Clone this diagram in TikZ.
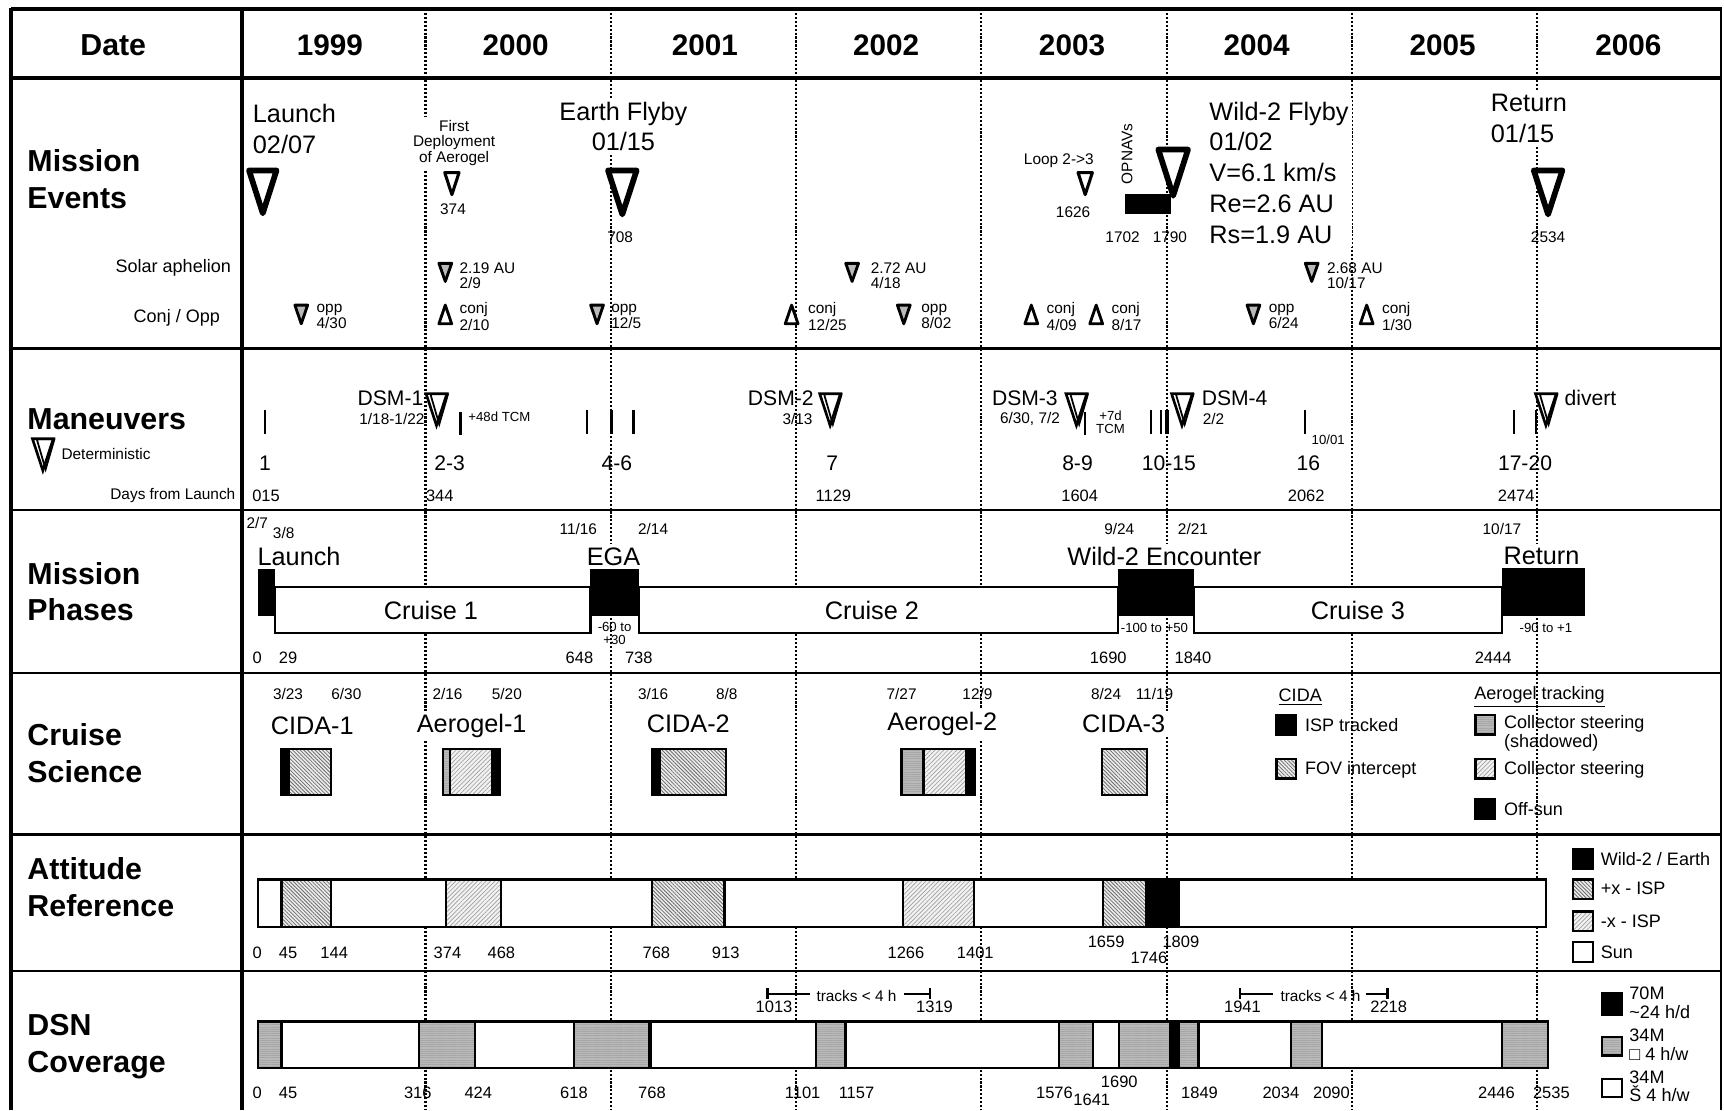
\documentclass[tikz,border=0pt]{standalone}
\usepackage{fontspec}
\setmainfont{Liberation Sans}
\usetikzlibrary{patterns.meta}
\newcount\nodecnt
\newcommand\TT[3][]{\global\advance\nodecnt by 1\relax\node[name=t\the\nodecnt,#1] at (#2) {#3};}
\newcommand\dtri[5]{\draw[#5] ({#1-#4},#2) -- ({#1+#4},#2) -- ({#1},#3) -- cycle;}
\newcommand\mtri[2]{\dtri{#1}{#2}{#2+29}{9.5}{mt}\dtri{#1+2.5}{#2+0.5}{#2+28}{8}{mt2}}
\tikzset{
 every node/.style={inner sep=0pt, outer sep=0pt},
 hd/.style={font=\bfseries\fontsize{13.8}{16.5}\selectfont},
 yrs/.style={font=\bfseries\fontsize{13.5}{16}\selectfont},
 ev/.style={font=\fontsize{11.5}{14}\selectfont},
 mn/.style={font=\fontsize{9.6}{11}\selectfont},
 lg/.style={font=\fontsize{8.2}{8.5}\selectfont},
 sl/.style={font=\fontsize{7.5}{8}\selectfont},
 sx/.style={font=\fontsize{7}{7}\selectfont},
 cj/.style={font=\fontsize{7}{6.3}\selectfont},
 tn/.style={font=\fontsize{6}{6}\selectfont},
 msk/.style={fill=white, inner sep=1.5pt},
 yr/.style={line width=0.95pt, dash pattern=on 0.95pt off 0.85pt},
 big/.style={line width=2.6pt, line join=round, fill=white},
 sml/.style={line width=1.4pt, line join=round, fill=white},
 gtri/.style={line width=1.3pt, line join=round, fill=gray!55},
 wtri/.style={line width=1.3pt, line join=round, fill=white},
 mt/.style={line width=1.2pt, fill=white},
 mt2/.style={line width=0.8pt},
 tick/.style={line width=1.1pt},
 bx/.style={line width=1pt},
 blk/.style={fill=black},
 hatA/.style={preaction={fill=gray!15}, preaction={pattern={Lines[angle=-45,distance=1.2pt,line width=0.35pt]}, pattern color=gray!85!black}},
 hatB/.style={preaction={fill=gray!10}, preaction={pattern={Lines[angle=45,distance=1.4pt,line width=0.3pt]}, pattern color=gray!75}},
 gry/.style={preaction={fill=gray!55}, preaction={pattern={Lines[angle=0,distance=1pt,line width=0.25pt]}, pattern color=gray!70}},
}
\begin{document}
\begin{tikzpicture}[x=0.5pt, y=-0.5pt]
\useasboundingbox (0,0) rectangle (1568,1010);
\fill[white] (0,0) rectangle (1568,1010);
% year lines
\foreach \xx in {387,556,724,892,1061,1230,1398} {\draw[yr] (\xx,8) -- (\xx,1010);}
% frame
\draw[line width=1.6pt] (10,8) -- (1566,8);
\draw[line width=1.6pt] (10,7) -- (10,1010);
\draw[line width=2pt] (220,8) -- (220,1010);
\draw[line width=0.8pt] (1565,8) -- (1565,1010);
\draw[line width=2pt] (10,71) -- (1566,71);
\foreach \yy in {317,464,612,759,883} {\draw[line width=1.2pt] (10,\yy) -- (1566,\yy);}
% header row
\TT[hd]{103,41}{Date}
\TT[yrs]{300,41}{1999}
\TT[yrs]{469,41}{2000}
\TT[yrs]{641,41}{2001}
\TT[yrs]{806,41}{2002}
\TT[yrs]{975,41}{2003}
\TT[yrs]{1143,41}{2004}
\TT[yrs]{1312,41}{2005}
\TT[yrs]{1481,41}{2006}
% row labels
\TT[hd,anchor=west,align=left]{25,163}{Mission\\Events}
\TT[hd,anchor=west]{25,381}{Maneuvers}
\TT[hd,anchor=west,align=left]{25,538}{Mission\\Phases}
\TT[hd,anchor=west,align=left]{25,685}{Cruise\\Science}
\TT[hd,anchor=west,align=left]{25,807}{Attitude\\Reference}
\TT[hd,anchor=west,align=left]{25,952}{DSN\\Coverage}
\TT[lg,anchor=east]{210,244}{Solar aphelion}
\TT[lg,anchor=east]{200,289}{Conj / Opp}
\TT[sx,anchor=east]{214,451}{Days from Launch}
\TT[sx,anchor=west]{56,413}{Deterministic}
\mtri{39}{399}
% ---------- Mission events
\TT[ev,anchor=west,align=left]{230,117}{Launch\\02/07}
\dtri{239}{155}{194}{12.5}{big}
\TT[sx,align=center,msk]{413,130}{First\\Deployment\\of Aerogel}
\dtri{411}{157}{177}{6.5}{sml}
\TT[sx]{412,190}{374}
\TT[ev,align=center,msk]{567,115}{Earth Flyby\\01/15}
\dtri{566}{155}{195}{13}{big}
\TT[sx]{564,216}{708}
\TT[sx]{963,146}{Loop 2->3}
\dtri{987}{157}{177}{6.5}{sml}
\TT[sx]{976,193}{1626}
\TT[sx,rotate=90]{1025,140}{OPNAVs}
\fill (1023,176) rectangle (1065,195);
\TT[sx]{1021,216}{1702}
\TT[sx]{1064,216}{1790}
\dtri{1067}{136}{178}{13.5}{big}
\TT[ev,anchor=west,align=left,msk]{1097,157}{Wild-2 Flyby\\01/02\\V=6.1 km/s\\Re=2.6 AU\\Rs=1.9 AU}
\TT[ev,anchor=west,align=left,msk]{1353,108}{Return\\01/15}
\dtri{1408}{155}{195}{13}{big}
\TT[sx]{1408,216}{2534}
% aphelion
\dtri{405}{239.5}{256}{5.8}{gtri}
\TT[sx,anchor=west,align=left]{418,251}{2.19 AU\\2/9}
\dtri{775}{239.5}{256}{5.8}{gtri}
\TT[sx,anchor=west,align=left]{792,251}{2.72 AU\\4/18}
\dtri{1193}{239.5}{256}{5.8}{gtri}
\TT[sx,anchor=west,align=left]{1207,251}{2.68 AU\\10/17}
% conj / opp
\dtri{274}{277.5}{294.5}{5.8}{gtri}
\TT[cj,anchor=west,align=left]{288,288}{opp\\4/30}
\dtri{405}{294.5}{277.5}{5.8}{wtri}
\TT[cj,anchor=west,align=left]{418,288}{conj\\2/10}
\dtri{543}{277.5}{294.5}{5.8}{gtri}
\TT[cj,anchor=west,align=left]{556,288}{opp\\12/5}
\dtri{720}{294.5}{277.5}{5.8}{wtri}
\TT[cj,anchor=west,align=left]{735,288}{conj\\12/25}
\dtri{822}{277.5}{294.5}{5.8}{gtri}
\TT[cj,anchor=west,align=left]{838,288}{opp\\8/02}
\dtri{938}{294.5}{277.5}{5.8}{wtri}
\TT[cj,anchor=west,align=left]{952,288}{conj\\4/09}
\dtri{997}{294.5}{277.5}{5.8}{wtri}
\TT[cj,anchor=west,align=left]{1011,288}{conj\\8/17}
\dtri{1140}{277.5}{294.5}{5.8}{gtri}
\TT[cj,anchor=west,align=left]{1154,288}{opp\\6/24}
\dtri{1243}{294.5}{277.5}{5.8}{wtri}
\TT[cj,anchor=west,align=left]{1257,288}{conj\\1/30}
% ---------- Maneuvers
\foreach \xx in {241,534,556,576,1047,1056,1187,1377,1397} {\draw[tick] (\xx,373) -- (\xx,395);}
\draw[tick] (419,375) -- (419,396);
\draw[tick] (987,375) -- (987,396);
\draw[line width=1.8pt] (1061,373) -- (1061,395);
\mtri{397}{358}
\mtri{755}{358}
\mtri{979}{358}
\mtri{1075}{358}
\mtri{1406}{358}
\TT[mn,anchor=east]{385,362}{DSM-1}
\TT[sx,anchor=east]{386,381}{1/18-1/22}
\TT[tn,anchor=west]{426,379}{+48d TCM}
\TT[mn,anchor=east]{740,362}{DSM-2}
\TT[sx,anchor=east]{739,381}{3/13}
\TT[mn,anchor=east]{962,362}{DSM-3}
\TT[sx,anchor=east]{964,381}{6/30, 7/2}
\TT[tn,align=center]{1010,384}{+7d\\TCM}
\TT[mn,anchor=west]{1093,362}{DSM-4}
\TT[sx,anchor=west]{1094,381}{2/2}
\TT[tn]{1208,400}{10/01}
\TT[mn,anchor=west]{1423,362}{divert}
\TT[mn]{241,421}{1}
\TT[mn]{409,421}{2-3}
\TT[mn]{561,421}{4-6}
\TT[mn]{757,421}{7}
\TT[mn]{980,421}{8-9}
\TT[mn]{1063,421}{10-15}
\TT[mn]{1190,421}{16}
\TT[mn]{1387,421}{17-20}
\TT[sl]{242,451}{015}
\TT[sl]{400,451}{344}
\TT[sl]{758,451}{1129}
\TT[sl]{982,451}{1604}
\TT[sl]{1188,451}{2062}
\TT[sl]{1379,451}{2474}
% ---------- Mission phases
\TT[sx]{234,476}{2/7}
\TT[sx]{258,485}{3/8}
\TT[sx]{526,481}{11/16}
\TT[sx]{594,481}{2/14}
\TT[sx]{1018,481}{9/24}
\TT[sx]{1085,481}{2/21}
\TT[sx]{1366,481}{10/17}
\draw[bx,fill=white] (250,534) rectangle (537,576);
\draw[bx,fill=white] (581,534) rectangle (1017,576);
\draw[bx,fill=white] (1086,534) rectangle (1366,576);
\fill (235,517) rectangle (250,560);
\fill (537,517) rectangle (581,560);
\fill (1017,517) rectangle (1086,560);
\fill (1366,517) rectangle (1442,560);
\TT[ev,msk]{272,506}{Launch}
\TT[ev,msk]{558,506}{EGA}
\TT[ev,msk]{1059,506}{Wild-2 Encounter}
\TT[ev,msk]{1402,506}{Return}
\TT[ev]{392,555}{Cruise 1}
\TT[ev]{793,555}{Cruise 2}
\TT[ev]{1235,555}{Cruise 3}
\TT[tn,align=center]{559,576}{-60 to\\+30}
\TT[tn]{1050,571}{-100 to +50}
\TT[tn]{1406,571}{-90 to +1}
\TT[sl]{234,598}{0}
\TT[sl]{262,598}{29}
\TT[sl]{527,598}{648}
\TT[sl]{581,598}{738}
\TT[sl]{1008,598}{1690}
\TT[sl]{1085,598}{1840}
\TT[sl]{1358,598}{2444}
% ---------- Cruise science
\TT[sx]{262,631}{3/23}
\TT[sx]{315,631}{6/30}
\TT[sx]{407,631}{2/16}
\TT[sx]{461,631}{5/20}
\TT[sx]{594,631}{3/16}
\TT[sx]{661,631}{8/8}
\TT[sx]{820,631}{7/27}
\TT[sx]{889,631}{12/9}
\TT[sx]{1006,631}{8/24}
\TT[sx]{1050,631}{11/19}
\TT[ev,msk]{284,660}{CIDA-1}
\TT[ev,msk]{429,660}{Aerogel-1}
\TT[ev,msk]{626,658}{CIDA-2}
\TT[ev,msk]{857,658}{Aerogel-2}
\TT[ev,msk]{1022,658}{CIDA-3}
\draw[bx,blk] (256,681) rectangle (263,723);
\draw[bx,hatA] (263,681) rectangle (301,723);
\draw[bx,gry] (403,681) rectangle (409,723);
\draw[bx,hatB] (409,681) rectangle (448,723);
\draw[bx,blk] (448,681) rectangle (455,723);
\draw[bx,blk] (593,681) rectangle (600,723);
\draw[bx,hatA] (600,681) rectangle (660,723);
\draw[bx,gry] (820,681) rectangle (840,723);
\draw[bx,hatB] (840,681) rectangle (879,723);
\draw[bx,blk] (879,681) rectangle (887,723);
\draw[bx,hatA] (1002,681) rectangle (1043,723);
% legend
\TT[lg,anchor=west]{1163,634}{\underline{CIDA}}
\draw[bx,blk] (1161,650) rectangle (1179,668);
\TT[lg,anchor=west]{1187,659}{ISP tracked}
\draw[bx,hatA] (1161,690) rectangle (1179,708);
\TT[lg,anchor=west]{1187,700}{FOV intercept}
\TT[lg,anchor=west]{1341,634}{\underline{Aerogel tracking}}
\draw[bx,gry] (1342,650) rectangle (1360,668);
\TT[lg,anchor=west,align=left]{1368,667}{Collector steering\\(shadowed)}
\draw[bx,hatB] (1342,690) rectangle (1360,708);
\TT[lg,anchor=west]{1368,700}{Collector steering}
\draw[bx,blk] (1342,727) rectangle (1360,745);
\TT[lg,anchor=west]{1368,736}{Off-sun}
% ---------- Attitude reference
\draw[bx,fill=white] (235,800) rectangle (1406,843);
\draw[bx,hatA] (256,800) rectangle (301,843);
\draw[bx,hatB] (406,800) rectangle (456,843);
\draw[bx,hatA] (593,800) rectangle (659,843);
\draw[bx,hatB] (821,800) rectangle (886,843);
\draw[bx,hatA] (1003,800) rectangle (1042,843);
\draw[bx,blk] (1042,800) rectangle (1072,843);
\TT[sl]{234,867}{0}
\TT[sl]{262,867}{45}
\TT[sl]{304,867}{144}
\TT[sl]{407,867}{374}
\TT[sl]{456,867}{468}
\TT[sl]{597,867}{768}
\TT[sl]{660,867}{913}
\TT[sl]{824,867}{1266}
\TT[sl]{887,867}{1401}
\TT[sl]{1006,857}{1659}
\TT[sl]{1045,871}{1746}
\TT[sl]{1074,857}{1809}
\draw[bx,blk] (1431,772) rectangle (1449,790);
\TT[lg,anchor=west]{1456,781}{Wild-2 / Earth}
\draw[bx,hatA] (1431,800) rectangle (1449,818);
\TT[lg,anchor=west]{1456,808}{+x - ISP}
\draw[bx,hatB] (1431,829) rectangle (1449,847);
\TT[lg,anchor=west]{1456,838}{-x - ISP}
\draw[bx,fill=white] (1431,857) rectangle (1449,875);
\TT[lg,anchor=west]{1456,866}{Sun}
% ---------- DSN coverage
\coordinate (b1a) at (698,904); \coordinate (b1b) at (737,904);
\coordinate (b1c) at (822,904); \coordinate (b1d) at (846,904);
\draw[line width=1pt] (b1a) -- (b1b);
\draw[line width=1pt] (b1c) -- (b1d);
\draw[line width=1pt] (698,899) -- (698,909);
\draw[line width=1pt] (846,899) -- (846,909);
\TT[sx]{779,906}{tracks < 4 h}
\TT[sl]{704,916}{1013}
\TT[sl]{850,916}{1319}
\coordinate (b2a) at (1128,904); \coordinate (b2b) at (1158,904);
\coordinate (b2c) at (1242,904); \coordinate (b2d) at (1262,904);
\draw[line width=1pt] (b2a) -- (b2b);
\draw[line width=1pt] (b2c) -- (b2d);
\draw[line width=1pt] (1128,899) -- (1128,909);
\draw[line width=1pt] (1262,899) -- (1262,909);
\TT[sx]{1201,906}{tracks < 4 h}
\TT[sl]{1130,916}{1941}
\TT[sl]{1263,916}{2218}
\draw[bx,fill=white] (235,929) rectangle (1408,971);
\draw[bx,gry] (235,929) rectangle (256,971);
\draw[bx,gry] (381,929) rectangle (432,971);
\draw[bx,gry] (522,929) rectangle (591,971);
\draw[line width=1.6pt] (591,929) -- (591,971);
\draw[bx,gry] (742,929) rectangle (769,971);
\draw[bx,gry] (963,929) rectangle (994,971);
\draw[bx,gry] (1018,929) rectangle (1064,971);
\draw[bx,blk] (1064,929) rectangle (1072,971);
\draw[bx,gry] (1072,929) rectangle (1090,971);
\draw[bx,gry] (1174,929) rectangle (1202,971);
\draw[bx,gry] (1366,929) rectangle (1408,971);
\TT[sl]{234,994}{0}
\TT[sl]{262,994}{45}
\TT[sl]{380,994}{316}
\TT[sl]{435,994}{424}
\TT[sl]{522,994}{618}
\TT[sl]{593,994}{768}
\TT[sl]{730,994}{1101}
\TT[sl]{779,994}{1157}
\TT[sl]{959,994}{1576}
\TT[sl]{993,1000}{1641}
\TT[sl]{1018,984}{1690}
\TT[sl]{1091,994}{1849}
\TT[sl]{1165,994}{2034}
\TT[sl]{1211,994}{2090}
\TT[sl]{1361,994}{2446}
\TT[sl]{1411,994}{2535}
\draw[bx,blk] (1457,903) rectangle (1475,923);
\TT[lg,anchor=west,align=left]{1482,912}{70M\\\textasciitilde 24 h/d}
\draw[bx,gry] (1457,943) rectangle (1475,960);
\TT[lg,anchor=west,align=left]{1482,950}{34M\\□ 4 h/w}
\draw[bx,fill=white] (1457,981) rectangle (1475,998);
\TT[lg,anchor=west,align=left]{1482,988}{34M\\Š 4 h/w}
\end{tikzpicture}
\end{document}
